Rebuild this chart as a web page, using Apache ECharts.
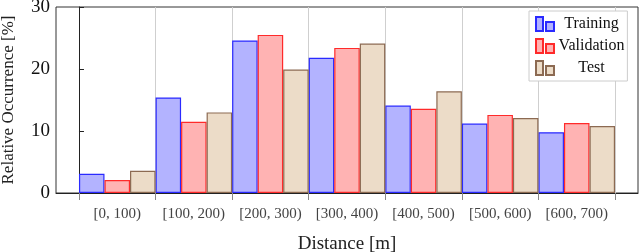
<!DOCTYPE html>
<html><head><meta charset="utf-8">
<script src="https://cdn.jsdelivr.net/npm/echarts@6/dist/echarts.min.js"></script>
<style>html,body{margin:0;padding:0;background:#fff}#c{width:640px;height:252px}</style>
</head><body><div id="c"></div>
<script>
const binEdges = [0, 100, 200, 300, 400, 500, 600, 700];
const categories = ['[0, 100)', '[100, 200)', '[200, 300)', '[300, 400)', '[400, 500)', '[500, 600)', '[600, 700)'];
const seriesNames = ['Training', 'Validation', 'Test'];
const training = [3.1, 15.4, 24.6, 21.8, 14.1, 11.2, 9.8];
const validation = [2.1, 11.5, 25.5, 23.4, 13.6, 12.6, 11.3];
const test = [3.6, 13.0, 19.9, 24.1, 16.4, 12.1, 10.8];
const yTicks = [0, 10, 20, 30];

const serif = 'Liberation Serif';
const xMin = -30, xMax = 730;
const gridLeft = 56, gridRight = 2;
const gridW = 640 - gridLeft - gridRight;
const binW = 100;
const barW = gridW * (binW / 3) / (xMax - xMin);

const fills = ['#b3b3ff', '#ffb3b3', '#ecdcc8'];
const borders = ['#2a2aff', '#ff2a2a', '#8c6a52'];
const allVals = [training, validation, test];

const centers = categories.map((_, i) => (binEdges[i] + binEdges[i + 1]) / 2);

const series = allVals.map((vals, k) => ({
  name: seriesNames[k],
  type: 'bar',
  barWidth: barW,
  barGap: '-100%',
  data: vals.map((v, i) => [binEdges[i] + binW / 6 * (2 * k + 1), v]),
  itemStyle: { color: fills[k], borderColor: borders[k], borderWidth: 1.2 },
  z: 3
}));

const chart = echarts.init(document.getElementById('c'), null, { renderer: 'canvas' });
chart.setOption({
  animation: false,
  grid: { left: gridLeft, right: gridRight, top: 7, bottom: 59, containLabel: false, outerBoundsMode: 'none', show: true, borderColor: '#333', borderWidth: 1, backgroundColor: 'transparent' },
  legend: {
    left: 529, top: 11, orient: 'vertical',
    padding: [5, 3, 5, 6],
    itemWidth: 18, itemHeight: 14, itemGap: 6,
    borderColor: '#ccc', borderWidth: 1, backgroundColor: '#fff',
    icon: 'path://M0,0H7V14H0Z M10,5H18V14H10Z',
    formatter: n => '{a|' + n + '}',
    textStyle: { fontFamily: serif, fontSize: 16, color: '#111', rich: { a: { width: 65, align: 'center', fontFamily: serif, fontSize: 16 } } },
    data: seriesNames
  },
  xAxis: {
    type: 'value', min: xMin, max: xMax,
    name: 'Distance [m]', nameLocation: 'middle', nameGap: 42,
    nameTextStyle: { fontFamily: serif, fontSize: 19, color: '#222' },
    axisLine: { show: true, onZero: false, lineStyle: { color: '#222', width: 1 } },
    axisTick: { show: true, inside: false, length: 7, customValues: binEdges, lineStyle: { color: '#888' } },
    splitLine: { show: true, lineStyle: { color: '#cfcfcf', width: 1 } },
    axisLabel: {
      customValues: centers, margin: 14,
      formatter: v => { const i = centers.indexOf(v); return i >= 0 ? categories[i] : ''; },
      fontFamily: serif, fontSize: 15, color: '#444'
    }
  },
  yAxis: {
    type: 'value', min: 0, max: 30, interval: 10,
    name: 'Relative Occurrence [%]', nameLocation: 'middle', nameGap: 39,
    nameTextStyle: { fontFamily: serif, fontSize: 17, color: '#222' },
    axisLine: { show: true, lineStyle: { color: '#222', width: 1 } },
    axisTick: { show: true, inside: true, length: 5, lineStyle: { color: '#222' } },
    splitLine: { show: false },
    axisLabel: { fontFamily: serif, fontSize: 19, color: '#111', margin: 6, formatter: v => yTicks.includes(v) ? String(v) : '' }
  },
  series: series
});
</script></body></html>
